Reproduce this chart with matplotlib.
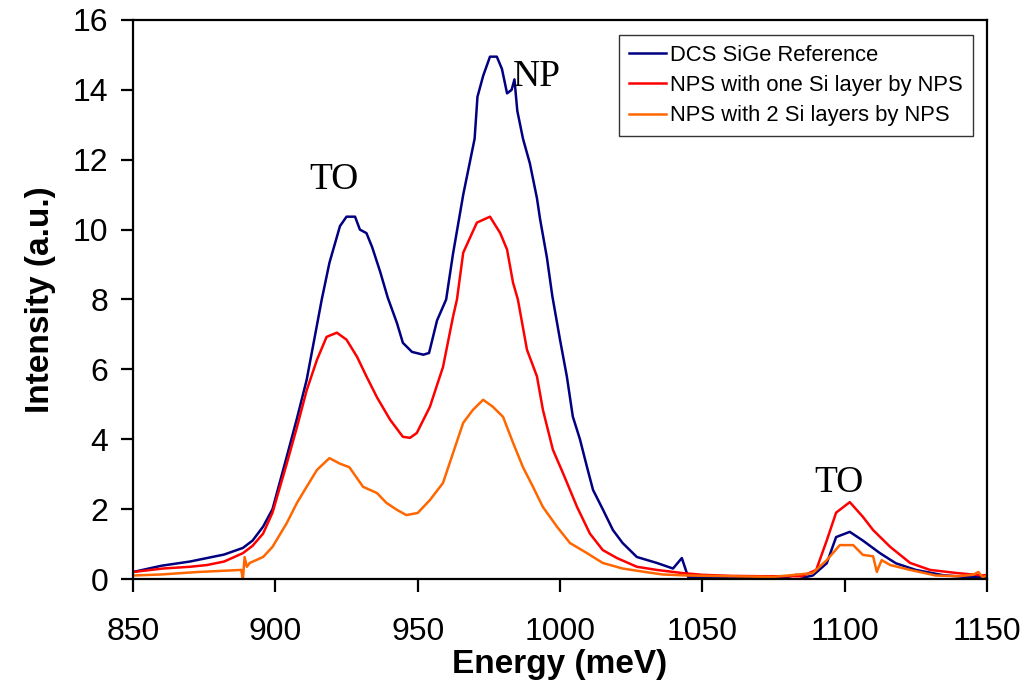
import numpy as np
import matplotlib
matplotlib.use("Agg")
from matplotlib import pyplot as plt

plt.rcParams['font.family'] = ['Liberation Sans', 'DejaVu Sans']

# DCS SiGe Reference
x_ref = [850, 860, 870, 876, 882, 888.6, 892, 895.7, 899, 904, 907.6, 911, 914, 916.3,
         919, 922.7, 925, 928, 929.7, 932, 934, 936.8, 939.5, 942.7, 944.8, 948, 952,
         954, 956.8, 960, 962.4, 966, 968, 970, 971, 973, 975.4, 977.8, 979.6, 981.4,
         983, 984, 985, 987, 989.4, 991.9, 993, 995.4, 997.3, 1000, 1002.4, 1004.5,
         1007, 1009.5, 1011.6, 1015, 1018.6, 1022, 1027, 1034, 1039.7, 1042.8, 1045,
         1050, 1060, 1070, 1080, 1083, 1086, 1088.8, 1093.7, 1097, 1101.8, 1106.4,
         1112.4, 1118, 1125, 1134.5, 1142, 1150]
y_ref = [0.2, 0.38, 0.5, 0.6, 0.7, 0.89, 1.1, 1.5, 2.0, 3.5, 4.6, 5.7, 7.0, 8.0,
         9.05, 10.1, 10.37, 10.37, 10.0, 9.9, 9.5, 8.8, 8.05, 7.33, 6.76, 6.5, 6.42,
         6.47, 7.4, 8.0, 9.3, 11.0, 11.8, 12.6, 13.8, 14.4, 14.95, 14.95, 14.6, 13.9,
         14.0, 14.3, 13.4, 12.6, 11.9, 10.9, 10.3, 9.2, 8.1, 6.85, 5.8, 4.65,
         4.0, 3.2, 2.55, 2.0, 1.4, 1.03, 0.63, 0.46, 0.3, 0.6, 0.06,
         0.06, 0.05, 0.05, 0.06, 0.12, 0.05, 0.1, 0.45, 1.2, 1.35, 1.1,
         0.74, 0.45, 0.26, 0.11, 0.06, 0.05]

# NPS with one Si layer by NPS
x_one = [850, 860.5, 870, 876, 882, 888.6, 892, 895.7, 899, 904, 907.6, 911, 914.6, 918,
         921.6, 925, 928.7, 932, 935.7, 940.3, 944.8, 947.3, 949.7, 954.3, 958.9, 962.4,
         963.8, 966, 970.8, 975.4, 979, 981.4, 983.5, 985.2, 988.4, 991.9, 994, 997.5,
         1001, 1006, 1010.5, 1015, 1020, 1027, 1034, 1043, 1050, 1059.7, 1070, 1085,
         1090, 1093.7, 1097, 1101.8, 1106.4, 1110, 1116, 1123, 1130, 1139.5, 1148.6, 1150]
y_one = [0.2, 0.3, 0.35, 0.4, 0.5, 0.74, 0.95, 1.3, 1.9, 3.3, 4.35, 5.4, 6.27, 6.93,
         7.05, 6.85, 6.36, 5.8, 5.2, 4.56, 4.07, 4.04, 4.18, 4.93, 6.07, 7.5,
         8.0, 9.34, 10.2, 10.37, 9.9, 9.43, 8.48, 8.0, 6.56, 5.8, 4.84, 3.7,
         3.04, 2.06, 1.3, 0.83, 0.6, 0.35, 0.26, 0.17, 0.12, 0.09, 0.08, 0.08,
         0.26, 1.1, 1.9, 2.2, 1.78, 1.4, 0.92, 0.46, 0.26, 0.17, 0.1, 0.12]

# NPS with 2 Si layers by NPS
x_two = [850, 860, 872.6, 888, 888.6, 889.2, 890, 891, 895.7, 899, 904, 907.6, 911, 914.6,
         919, 922.7, 926, 930.8, 935.7, 939, 942.7, 946, 950, 954.3, 958.9, 962.4, 966,
         969.4, 973, 976.4, 980, 983.5, 987, 990.5, 994, 999, 1003.5, 1009.5, 1015,
         1022, 1030, 1036, 1045, 1059.7, 1075, 1088.8, 1093.7, 1098.3, 1103, 1106.4,
         1110, 1111.3, 1112, 1113, 1116, 1123, 1132, 1140, 1145, 1147, 1148.5, 1150]
y_two = [0.1, 0.13, 0.2, 0.26, 0.0, 0.63, 0.35, 0.46, 0.63, 0.92, 1.6, 2.18, 2.64, 3.12,
         3.46, 3.3, 3.2, 2.64, 2.46, 2.18, 1.98, 1.83, 1.89, 2.26, 2.75, 3.6, 4.47,
         4.84, 5.13, 4.93, 4.64, 3.9, 3.2, 2.64, 2.06, 1.49, 1.03, 0.74, 0.46,
         0.3, 0.2, 0.13, 0.1, 0.08, 0.06, 0.17, 0.54, 0.97, 0.97, 0.69,
         0.65, 0.2, 0.35, 0.54, 0.4, 0.26, 0.1, 0.08, 0.12, 0.2, 0.05, 0.1]

labels = ['DCS SiGe Reference', 'NPS with one Si layer by NPS', 'NPS with 2 Si layers by NPS']
colors = ['#000080', '#FF0000', '#FF6600']

# peak annotations: text, x, y
peaks = [('TO', 920.6, 11.15), ('NP', 991.9, 14.1), ('TO', 1098, 2.49)]

fig = plt.figure(figsize=(10.28, 6.94), dpi=100)
ax = fig.add_axes([0.1294, 0.1657, 0.8307, 0.8055])

for xs, ys, lab, c in zip([x_ref, x_one, x_two], [y_ref, y_one, y_two], labels, colors):
    ax.plot(xs, ys, color=c, lw=1.8, label=lab)

for txt, px, py in peaks:
    ax.text(px, py, txt, ha='center', va='baseline', fontsize=27,
            family=['Liberation Serif', 'DejaVu Serif'])

ax.set_xlim(850, 1150)
ax.set_ylim(0, 16)
ax.set_xticks(np.arange(850, 1151, 50))
ax.set_yticks(np.arange(0, 17, 2))
ax.tick_params(direction='out', length=9, width=1.6, labelsize=23)
ax.tick_params(axis='x', pad=18)
ax.tick_params(axis='y', pad=9)
for s in ax.spines.values():
    s.set_linewidth(1.6)

ax.set_xlabel('Energy (meV)', fontsize=24, fontweight='bold', labelpad=2)
ax.set_ylabel('Intensity (a.u.)', fontsize=24, fontweight='bold', labelpad=12)

leg = ax.legend(loc='upper right', bbox_to_anchor=(0.9836, 0.973), borderaxespad=0,
                fontsize=15.8, frameon=True, fancybox=False, handlelength=1.7,
                handletextpad=0.2, labelspacing=0.42, borderpad=0.45)
leg.get_frame().set_edgecolor('black')
leg.get_frame().set_linewidth(1.0)

fig.savefig('out.png', dpi=100)
